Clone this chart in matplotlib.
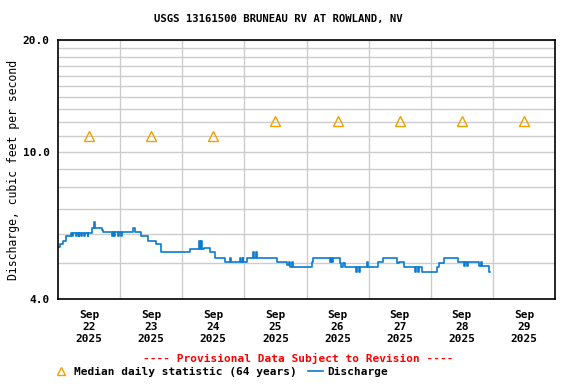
import matplotlib
matplotlib.use("Agg")
import matplotlib.pyplot as plt
import numpy as np
from matplotlib.ticker import FixedLocator, NullFormatter

plt.rcParams['font.family'] = ['DejaVu Sans Mono']
plt.rcParams['font.weight'] = 'bold'

title = "USGS 13161500 BRUNEAU RV AT ROWLAND, NV"
day_labels = ["Sep\n22\n2025", "Sep\n23\n2025", "Sep\n24\n2025", "Sep\n25\n2025",
              "Sep\n26\n2025", "Sep\n27\n2025", "Sep\n28\n2025", "Sep\n29\n2025"]

# median daily statistic, one per day (plotted at noon)
median_days = [0.5, 1.5, 2.5, 3.5, 4.5, 5.5, 6.5, 7.5]
median_vals = [11.0, 11.0, 11.0, 12.1, 12.1, 12.1, 12.1, 12.1]

# discharge, hours since Sep 22 00:00 (step series)
q_hours = [0.0, 0.8, 1.8, 3.1, 5.0, 5.6, 5.9, 6.9, 7.2, 8.0, 8.3, 9.0, 9.3, 10.2, 10.5, 11.4, 11.7,
           13.2, 14.0, 14.3, 17.0, 17.5, 20.9, 21.3, 21.8, 22.2, 23.0, 23.4, 24.2, 24.7, 25.5,
           28.9, 29.8, 32.1, 34.7, 37.7, 39.6, 51.1, 54.3, 54.7, 55.2, 55.6, 56.5, 58.8, 60.5,
           64.4, 66.6, 66.9, 70.5, 70.8, 71.3, 71.6, 73.0, 75.4, 75.8, 76.4, 76.8, 82.7, 84.7,
           88.5, 89.3, 89.7, 90.4, 90.8, 92.1, 98.2, 98.6, 99.1, 105.0, 105.4, 106.0, 106.4,
           108.9, 109.5, 110.0, 110.8, 111.8, 115.0, 115.5, 116.2, 116.8, 117.9, 119.5, 119.8,
           123.6, 125.7, 131.1, 131.7, 133.7, 137.9, 138.3, 139.0, 139.5, 140.5, 146.6, 147.2,
           149.1, 154.7, 156.8, 157.2, 158.0, 158.5, 159.1, 162.7, 163.4, 163.7, 166.6, 167.0]
q_vals = [5.52, 5.63, 5.73, 5.90, 6.01, 5.90, 6.01, 5.90, 6.01, 5.90, 6.01, 5.90, 6.01, 5.90, 6.01, 5.90, 6.01,
          6.23, 6.46, 6.23, 6.14, 6.06, 5.90, 6.06, 5.90, 6.06, 5.90, 6.06, 5.90, 6.06, 6.06,
          6.23, 6.06, 5.90, 5.75, 5.63, 5.35, 5.46, 5.72, 5.46, 5.72, 5.46, 5.50, 5.36, 5.17,
          5.04, 5.17, 5.04, 5.17, 5.04, 5.17, 5.04, 5.17, 5.35, 5.17, 5.35, 5.17, 5.17, 5.04,
          4.94, 5.04, 4.87, 5.04, 4.87, 4.87, 5.03, 5.16, 5.16, 5.03, 5.16, 5.03, 5.16,
          5.00, 4.87, 5.00, 4.87, 4.87, 4.73, 4.87, 4.73, 4.87, 4.87, 5.03, 4.87,
          5.03, 5.16, 5.00, 5.03, 4.87, 4.73, 4.87, 4.73, 4.87, 4.73, 4.87, 5.00,
          5.16, 5.03, 4.92, 5.03, 4.92, 5.03, 5.03, 4.92, 5.03, 4.92, 4.73, 4.73]

fig = plt.figure(figsize=(5.76, 3.84), dpi=100)
ax = fig.add_axes([58/576, 85/384, 497/576, 259/384])

x = np.array(q_hours) / 24.0
line, = ax.plot(x, q_vals, drawstyle='steps-post', color='#0a7bd1', lw=1.2, label='Discharge')
tri, = ax.plot(median_days, median_vals, ls='none', marker='^', ms=7, mfc='none',
               mec='#f0a000', mew=1.0, label='Median daily statistic (64 years)')

ax.set_yscale('log')
ax.set_ylim(4, 20)
ax.set_xlim(0, 8)
ax.yaxis.set_major_locator(FixedLocator([4, 10, 20]))
ax.yaxis.set_minor_locator(FixedLocator([5, 6, 7, 8, 9, 11, 12, 13, 14, 15, 16, 17, 18, 19]))
ax.yaxis.set_minor_formatter(NullFormatter())
ax.set_yticklabels(['4.0', '10.0', '20.0'])
ax.set_xticks(median_days)
ax.set_xticklabels(day_labels, linespacing=1.25)
ax.set_xticks(np.arange(1, 8), minor=True)
ax.tick_params(axis='both', which='both', length=0, labelsize=8)
ax.tick_params(axis='x', pad=8)
ax.tick_params(axis='y', pad=6)
ax.grid(True, which='minor', color='#cccccc', lw=1.0)
ax.grid(True, axis='y', which='major', color='#cccccc', lw=1.0)
ax.set_axisbelow(True)
for s in ax.spines.values():
    s.set_linewidth(1.2)
    s.set_color('black')

ax.set_ylabel('Discharge, cubic feet per second', fontsize=8.3, labelpad=2)
fig.text(278/576, 1 - 19/384, title, ha='center', va='center', fontsize=7.7)
fig.text(298/576, 1 - 358/384, '---- Provisional Data Subject to Revision ----',
         ha='center', va='center', color='red', fontsize=8)
fig.legend(handles=[tri, line], loc='center', bbox_to_anchor=(221/576, 1 - 372/384), ncol=2,
           frameon=False, fontsize=8, handlelength=1.4, handletextpad=0.4, columnspacing=1.0,
           borderpad=0, borderaxespad=0, markerscale=0.85)

fig.savefig('out.png', dpi=100)
